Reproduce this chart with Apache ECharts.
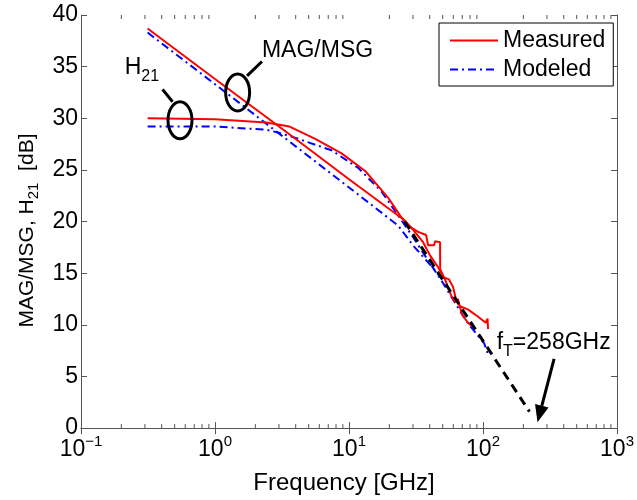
<!DOCTYPE html>
<html><head><meta charset="utf-8">
<script src="https://cdn.jsdelivr.net/npm/echarts@6/dist/echarts.min.js"></script>
<style>html,body{margin:0;padding:0;background:#fff}#c{width:637px;height:500px}</style>
</head><body><div id="c"></div>
<script>
const FONT = '"Liberation Sans", Arial, Helvetica, sans-serif';

// ---- data ----
const xMinorTickValues = [0.2,0.3,0.4,0.5,0.6,0.7,0.8,0.9, 2,3,4,5,6,7,8,9, 20,30,40,50,60,70,80,90, 200,300,400,500,600,700,800,900];

const measMagFreq = [0.314, 1.0, 3.55, 10, 26.1, 30.1, 35.7, 40.3, 46.1, 52.0, 57.6, 61.7, 64.9, 69.6, 77.1, 82.5];
const measMagDb   = [38.7, 33.8, 28.5, 24.1, 20.1, 19.2, 18.0, 16.7, 15.6, 14.4, 12.9, 12.2, 12.5, 11.0, 10.2, 9.9];

const measH21Freq = [0.314, 1.0, 2.4, 3.6, 5.6, 8.8, 13.2, 19.6, 24.0, 27.6, 32.8, 37.6, 38.9, 43.1, 43.9, 47.8, 47.9, 51.1, 55.7, 59.6, 62.8, 67.2, 77.1, 91.4, 104.8, 108, 109];
const measH21Db   = [30.0, 29.9, 29.6, 29.2, 28.0, 26.6, 24.9, 22.3, 20.6, 19.6, 19.0, 18.7, 17.7, 17.7, 18.1, 18.0, 15.4, 14.6, 14.4, 13.7, 12.5, 11.8, 11.5, 10.8, 10.2, 10.6, 9.6];

const modMagFreq = [0.314, 1, 10, 23.3, 30, 38, 45, 50];
const modMagDb   = [38.3, 33.3, 23.3, 19.6, 17.7, 16.2, 15.1, 14.3];

const modH21Freq = [0.314, 1, 2.4, 3.0, 4.2, 7.4, 11.7, 17.5, 24.7, 30, 40, 50, 60, 70, 80, 91, 102, 110];
const modH21Db   = [29.2, 29.2, 28.9, 28.6, 28.0, 26.9, 25.2, 22.9, 20.1, 18.5, 16.0, 14.1, 12.4, 11.0, 9.9, 9.0, 8.2, 7.0];

const fTFreq = [26, 222];
const fTDb   = [20.0, 1.6];

// annotation anchors (data coordinates)
const h21EllipseAt = [0.548, 29.8];
const magEllipseAt = [1.475, 32.5];
const h21Leader = [[0.406, 32.8], [0.482, 31.6]];
const magLeader = [[1.735, 34.1], [2.24, 35.5]];
const magLabelAt = [2.24, 36.5];
const h21LabelAt = [0.212, 34.9];
const fTLabelAt = [126.5, 8.3];
const fTArrow = [[339, 6.7], [255, 0.57]];

const zip = (a, b) => a.map((v, i) => [v, b[i]]);

const chart = echarts.init(document.getElementById('c'), null, {renderer: 'canvas'});

const axisColor = '#555';
const baseX = {
  type: 'log', logBase: 10, min: 0.1, max: 1000,
  axisLine: {show: true, lineStyle: {color: axisColor, width: 1}},
  axisTick: {show: true, inside: true, length: 6, lineStyle: {color: axisColor}},
  splitLine: {show: false}, minorTick: {show: false}
};
const baseY = {
  type: 'value', min: 0, max: 40, interval: 5,
  axisLine: {show: true, lineStyle: {color: axisColor, width: 1}},
  axisTick: {show: true, inside: true, length: 6, lineStyle: {color: axisColor}},
  splitLine: {show: false}
};

const option = {
  backgroundColor: '#fff',
  animation: false,
  grid: {left: 81, right: 17, top: 15, bottom: 67},
  legend: {
    data: ['Measured', 'Modeled'],
    orient: 'vertical', left: 439, top: 23,
    padding: [6, 8, 5, 10],
    itemWidth: 48, itemHeight: 22, itemGap: 6,
    borderColor: '#000', borderWidth: 1, backgroundColor: '#fff',
    itemStyle: {opacity: 0},
    textStyle: {fontSize: 23, fontFamily: FONT, color: '#000'}
  },
  xAxis: [
    Object.assign({}, baseX, {
      position: 'bottom',
      name: 'Frequency [GHz]', nameLocation: 'middle', nameGap: 37,
      nameTextStyle: {fontSize: 24, fontFamily: FONT, color: '#000', padding: [0, 10, 0, 0]},
      axisLabel: {
        show: true, margin: 6, color: '#000', fontSize: 23, fontFamily: FONT, lineHeight: 32,
        showMinLabel: true, showMaxLabel: true,
        formatter: v => '10{sup|' + String(Math.round(Math.log10(v))).replace('-', '\u2212') + '}',
        rich: {sup: {fontSize: 15, lineHeight: 15, verticalAlign: 'top', fontFamily: FONT, color: '#000'}}
      }
    }),
    Object.assign({}, baseX, {position: 'top', axisLabel: {show: false}})
  ],
  yAxis: [
    Object.assign({}, baseY, {
      position: 'left',
      name: 'MAG/MSG, H{sub|21}  [dB]', nameLocation: 'middle', nameRotate: 90, nameGap: 40,
      nameTextStyle: {fontSize: 21, fontFamily: FONT, color: '#000', lineHeight: 28, padding: [0, 18, 0, 0],
        rich: {sub: {fontSize: 15, lineHeight: 15, verticalAlign: 'bottom', fontFamily: FONT, color: '#000'}}},
      axisLabel: {show: true, margin: 3, color: '#000', fontSize: 23, fontFamily: FONT}
    }),
    Object.assign({}, baseY, {position: 'right', axisLabel: {show: false}})
  ],
  series: [
    {name: 'Modeled', type: 'line', data: zip(modMagFreq, modMagDb), symbol: 'none',
      lineStyle: {color: '#0000ff', width: 2, type: [8, 4, 2, 4]}, itemStyle: {color: '#0000ff'}},
    {name: 'Modeled', type: 'line', data: zip(modH21Freq, modH21Db), symbol: 'none',
      lineStyle: {color: '#0000ff', width: 2, type: [8, 4, 2, 4]}, itemStyle: {color: '#0000ff'}},
    {name: 'Measured', type: 'line', data: zip(measMagFreq, measMagDb), symbol: 'none',
      lineStyle: {color: '#ff0000', width: 2}, itemStyle: {color: '#ff0000'}},
    {name: 'Measured', type: 'line', data: zip(measH21Freq, measH21Db), symbol: 'none',
      lineStyle: {color: '#ff0000', width: 2}, itemStyle: {color: '#ff0000'}},
    {name: 'fT', type: 'line', data: zip(fTFreq, fTDb), symbol: 'none',
      lineStyle: {color: '#000', width: 3, type: [9, 6]}, itemStyle: {color: '#000'}},
    {name: 'minorTicks', type: 'custom', silent: true, clip: false,
      data: xMinorTickValues.map(v => [v, 0]),
      encode: {x: 0, y: 1},
      renderItem: (params, api) => {
        const v = api.value(0);
        const b = api.coord([v, 0]);
        const t = api.coord([v, 40]);
        return {type: 'group', children: [
          {type: 'line', shape: {x1: b[0], y1: b[1], x2: b[0], y2: b[1] - 4}, style: {stroke: axisColor, lineWidth: 1}},
          {type: 'line', shape: {x1: t[0], y1: t[1], x2: t[0], y2: t[1] + 4}, style: {stroke: axisColor, lineWidth: 1}}
        ]};
      }}
  ]
};
chart.setOption(option);

const P = d => chart.convertToPixel({xAxisIndex: 0, yAxisIndex: 0}, d);
const g = [];
[h21EllipseAt, magEllipseAt].forEach(c => {
  const p = P(c);
  g.push({type: 'ellipse', shape: {cx: p[0], cy: p[1], rx: 12, ry: 18.5}, style: {fill: 'none', stroke: '#000', lineWidth: 3}, z: 100});
});
[h21Leader, magLeader].forEach(seg => {
  const a = P(seg[0]), b = P(seg[1]);
  g.push({type: 'line', shape: {x1: a[0], y1: a[1], x2: b[0], y2: b[1]}, style: {stroke: '#000', lineWidth: 3}, z: 100});
});
(function () {
  const s = P(fTArrow[0]), t = P(fTArrow[1]);
  const dx = t[0] - s[0], dy = t[1] - s[1], len = Math.hypot(dx, dy);
  const ux = dx / len, uy = dy / len, L = 17, W = 7;
  const bx = t[0] - ux * L, by = t[1] - uy * L;
  g.push({type: 'line', shape: {x1: s[0], y1: s[1], x2: bx, y2: by}, style: {stroke: '#000', lineWidth: 3}, z: 100});
  g.push({type: 'polygon', shape: {points: [[t[0], t[1]], [bx - uy * W, by + ux * W], [bx + uy * W, by - ux * W]]}, style: {fill: '#000'}, z: 100});
})();
const richText = (txt, at, align) => {
  const p = P(at);
  return {type: 'text', x: p[0], y: p[1], z: 100,
    style: {text: txt, fontSize: 23, fontFamily: FONT, fill: '#000', align: align, verticalAlign: 'middle', lineHeight: 34,
      rich: {sub: {fontSize: 16, lineHeight: 16, verticalAlign: 'bottom', fontFamily: FONT, fill: '#000'}}}};
};
g.push(richText('MAG/MSG', magLabelAt, 'left'));
g.push(richText('H{sub|21}', h21LabelAt, 'left'));
g.push(richText('f{sub|T}=258GHz', fTLabelAt, 'left'));
chart.setOption({graphic: g});
</script>
</body></html>
